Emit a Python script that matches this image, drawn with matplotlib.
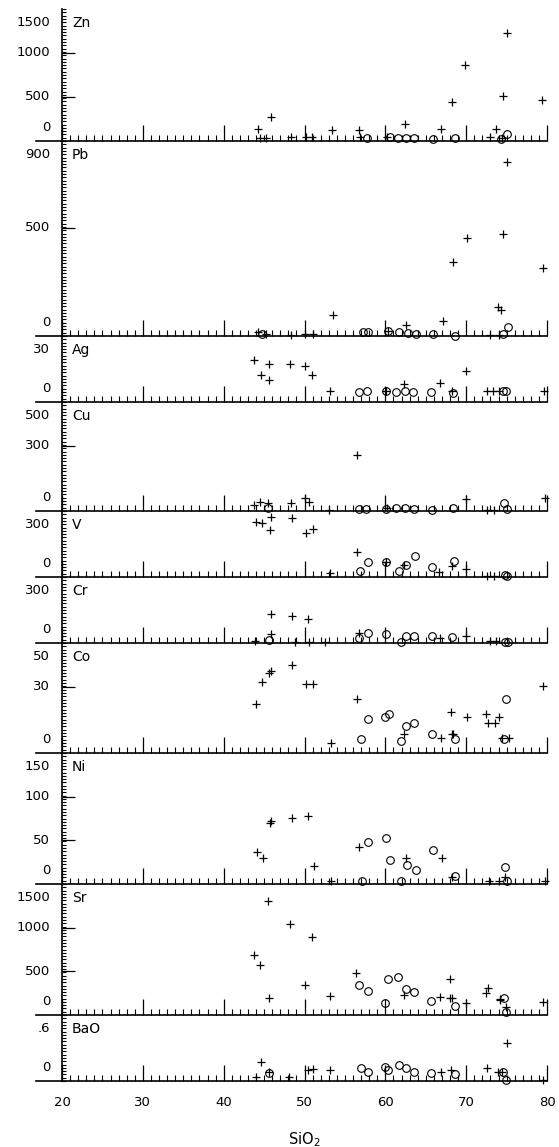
import numpy as np
import matplotlib
matplotlib.use('Agg')
import matplotlib.pyplot as plt
from matplotlib.ticker import MultipleLocator, FixedLocator
from matplotlib.transforms import blended_transform_factory, offset_copy

plt.rcParams['font.family'] = ['DejaVu Sans']

# ---- data (SiO2 wt%, element ppm / BaO wt%) ----
zn_plus_x = [44.2, 44.5, 45.2, 45.8, 48.3, 50.2, 50.9, 53.4, 56.7, 56.9, 60.2, 62.4, 66.9, 68.3, 69.9, 72.9, 73.7, 74.4, 74.5, 75.1, 79.4]
zn_plus_y = [133, 35, 35, 269, 40, 45, 40, 125, 125, 40, 40, 189, 140, 443, 860, 40, 136, 30, 511, 1223, 466]
zn_circ_x = [57.7, 60.6, 61.6, 62.6, 63.6, 65.9, 68.6, 74.3, 75.0]
zn_circ_y = [30, 40, 35, 35, 30, 25, 35, 20, 80]

pb_plus_x = [44.2, 45.2, 48.3, 50.0, 51.1, 53.5, 60.3, 62.6, 67.1, 68.4, 70.1, 73.0, 73.9, 74.1, 74.3, 74.5, 75.1, 79.5]
pb_plus_y = [20, 10, 5, 10, 10, 97, 25, 51, 71, 343, 451, 5, 135, 5, 120, 469, 804, 315]
pb_circ_x = [44.8, 57.2, 57.9, 60.3, 61.7, 62.8, 63.8, 65.9, 68.6, 74.5, 75.2]
pb_circ_y = [10, 20, 20, 25, 20, 15, 10, 10, 0, 10, 43]

ag_plus_x = [43.75, 44.6, 45.6, 45.6, 48.2, 50.0, 50.9, 53.1, 60.1, 62.25, 66.8, 68.2, 70.0, 72.6, 73.3, 74.0, 79.6]
ag_plus_y = [19.1, 12.3, 17.1, 10.0, 17.1, 16.4, 12.3, 5.2, 5.0, 8.2, 8.5, 5.0, 14.2, 5.0, 5.0, 5.0, 5.0]
ag_circ_x = [56.75, 57.7, 60.1, 61.3, 62.4, 63.4, 65.7, 68.4, 74.5, 74.9]
ag_circ_y = [4.5, 4.8, 5.0, 4.6, 4.8, 4.4, 4.5, 4.0, 4.8, 4.8]

cu_plus_x = [43.8, 44.5, 45.5, 48.3, 50.1, 50.6, 53.0, 56.5, 60.2, 70.0, 72.6, 73.5, 79.7]
cu_plus_y = [27, 43, 35, 36, 61, 40, 5, 257, 15, 55, 5, 5, 60]
cu_circ_x = [45.5, 56.75, 57.6, 60.1, 61.3, 62.4, 63.6, 65.8, 68.4, 74.7, 75.1]
cu_circ_y = [15, 10, 10, 10, 15, 15, 10, 5, 15, 35, 8]

v_plus_x = [44.0, 44.75, 45.7, 45.8, 48.4, 50.2, 51.0, 53.1, 56.5, 60.1, 62.3, 66.6, 68.2, 70.0, 72.6, 73.4]
v_plus_y = [251, 244, 214, 274, 267, 201, 217, 20, 115, 70, 55, 25, 50, 35, 5, 5]
v_circ_x = [56.9, 57.8, 60.1, 61.75, 62.6, 63.7, 65.8, 68.5, 74.75, 75.1]
v_circ_y = [29, 70, 70, 29, 55, 95, 44, 73, 8, 4]

cr_plus_x = [43.9, 45.8, 45.8, 48.4, 48.8, 50.4, 50.6, 52.5, 56.7, 66.75, 70.0, 73.0, 73.7]
cr_plus_y = [10, 132, 40, 123, 5, 111, 5, 5, 44, 25, 30, 10, 10]
cr_circ_x = [45.6, 56.8, 57.8, 60.1, 61.9, 62.6, 63.6, 65.8, 68.3, 74.75, 75.2]
cr_circ_y = [15, 21, 47, 39, 5, 34, 34, 30, 27, 5, 4]

co_plus_x = [44.0, 44.7, 45.6, 45.8, 48.4, 50.2, 51.0, 53.3, 56.5, 62.35, 66.9, 68.1, 68.2, 68.4, 70.1, 72.5, 72.7, 73.6, 74.1, 74.4, 75.3, 79.5]
co_plus_y = [22.3, 32.1, 36.5, 37.5, 40.0, 31.2, 31.2, 4.4, 24.4, 8.5, 7.0, 18.8, 8.5, 8.5, 16.5, 17.7, 13.8, 13.8, 16.5, 7.0, 7.0, 30.5]
co_circ_x = [57.0, 57.9, 60.0, 60.4, 61.9, 62.6, 63.6, 65.75, 68.6, 74.7, 74.9]
co_circ_y = [6.2, 15.5, 16.5, 17.6, 5.6, 12.4, 13.5, 8.5, 6.5, 6.5, 24.5]

ni_plus_x = [44.15, 44.85, 45.7, 45.9, 48.5, 50.4, 51.2, 53.3, 56.7, 62.5, 67.0, 68.2, 72.8, 74.1, 74.8, 79.7]
ni_plus_y = [36.6, 30.2, 70, 72, 75.9, 77.9, 20.2, 3, 42.8, 29.4, 29.4, 8, 3, 3, 8, 3]
ni_circ_x = [57.1, 57.9, 60.1, 60.6, 61.9, 62.7, 63.8, 65.9, 68.6, 74.8, 75.0]
ni_circ_y = [4, 47.7, 52.3, 27.5, 4, 21.8, 16.0, 38.9, 9.2, 19.5, 4]

sr_plus_x = [43.8, 44.5, 45.5, 45.55, 48.2, 50.0, 50.9, 53.15, 56.4, 62.25, 66.8, 68.0, 68.0, 68.2, 70.0, 72.4, 72.7, 74.15, 74.2, 74.9, 79.5]
sr_plus_y = [687, 573, 1309, 198, 1038, 340, 897, 218, 477, 229, 202, 412, 200, 195, 135, 248, 305, 172, 185, 95, 153]
sr_circ_x = [56.8, 57.8, 60.0, 60.3, 61.6, 62.6, 63.6, 65.7, 68.6, 74.65, 74.9]
sr_circ_y = [343, 278, 141, 416, 431, 298, 260, 164, 103, 191, 31]

bao_plus_x = [44.0, 44.6, 45.55, 48.1, 50.4, 51.0, 53.2, 66.85, 68.1, 72.6, 73.9, 74.4, 75.1, 79.5]
bao_plus_y = [0.04, 0.17, 0.085, 0.04, 0.10, 0.11, 0.10, 0.08, 0.10, 0.12, 0.08, 0.08, 0.35, 0.01]
bao_circ_x = [45.55, 57.0, 57.9, 60.0, 60.3, 61.75, 62.6, 63.6, 65.7, 68.6, 74.5, 74.9]
bao_circ_y = [0.07, 0.12, 0.08, 0.125, 0.10, 0.15, 0.12, 0.08, 0.07, 0.06, 0.08, 0.01]

names = ['Zn', 'Pb', 'Ag', 'Cu', 'V', 'Cr', 'Co', 'Ni', 'Sr', 'BaO']
top_labels = ['1500', '900', '30', '500', '300', '300', '50', '150', '1500', '.6']
y_max = [1500, 900, 30, 500, 300, 300, 50, 150, 1500, 0.6]
mid_ticks = [[500, 1000], [500], [], [300], [], [], [30], [50, 100], [500, 1000], []]
plus_data = [(zn_plus_x, zn_plus_y), (pb_plus_x, pb_plus_y), (ag_plus_x, ag_plus_y),
             (cu_plus_x, cu_plus_y), (v_plus_x, v_plus_y), (cr_plus_x, cr_plus_y),
             (co_plus_x, co_plus_y), (ni_plus_x, ni_plus_y), (sr_plus_x, sr_plus_y),
             (bao_plus_x, bao_plus_y)]
circ_data = [(zn_circ_x, zn_circ_y), (pb_circ_x, pb_circ_y), (ag_circ_x, ag_circ_y),
             (cu_circ_x, cu_circ_y), (v_circ_x, v_circ_y), (cr_circ_x, cr_circ_y),
             (co_circ_x, co_circ_y), (ni_circ_x, ni_circ_y), (sr_circ_x, sr_circ_y),
             (bao_circ_x, bao_circ_y)]

# panel edges in pixels (top, baseline)
edges = [(9, 141), (141, 336), (336, 402), (402, 511), (511, 577),
         (577, 643), (643, 753), (753, 884), (884, 1015), (1015, 1081)]

W, H = 559, 1147
x0, x1 = 62, 547
fig = plt.figure(figsize=(W / 100, H / 100), dpi=100)

FS = 9.5
for i, name in enumerate(names):
    top, base = edges[i]
    ax = fig.add_axes([x0 / W, 1 - base / H, (x1 - x0) / W, (base - top) / H])
    ax.patch.set_visible(False)
    ax.set_xlim(20, 80)
    ax.set_ylim(0, y_max[i])
    ax.spines['top'].set_visible(False)
    ax.spines['right'].set_visible(False)
    ax.spines['left'].set_linewidth(1.2)
    ax.spines['bottom'].set_linewidth(1.2)

    ax.xaxis.set_major_locator(MultipleLocator(10))
    ax.xaxis.set_minor_locator(MultipleLocator(1))
    ax.tick_params(axis='x', which='major', direction='in', length=11.5, width=0.9,
                   labelbottom=False, pad=11, labelsize=FS)
    ax.tick_params(axis='x', which='minor', direction='in', length=4.2, width=0.8)

    ax.yaxis.set_major_locator(FixedLocator(mid_ticks[i]))
    n = int(round((base - top) / 3.3))
    ax.yaxis.set_minor_locator(MultipleLocator(y_max[i] / n))
    ax.tick_params(axis='y', which='major', direction='in', length=9.4, width=0.9, labelleft=False)
    ax.tick_params(axis='y', which='minor', direction='in', length=2.9, width=0.8)

    # y labels as text so the end values can sit inside the panel
    tr = blended_transform_factory(ax.transAxes, ax.transData)
    ax.text(0, 0, '0', transform=offset_copy(tr, fig=fig, x=-8.6, y=9.4, units='points'),
            ha='right', va='center', fontsize=FS)
    ax.text(0, y_max[i], top_labels[i], transform=offset_copy(tr, fig=fig, x=-8.6, y=-10, units='points'),
            ha='right', va='center', fontsize=FS)
    ax.text(0, y_max[i], name, transform=offset_copy(tr, fig=fig, x=7.2, y=-10, units='points'),
            ha='left', va='center', fontsize=FS + 0.5)
    for v in mid_ticks[i]:
        ax.text(0, v, str(v), transform=offset_copy(tr, fig=fig, x=-8.6, y=0, units='points'),
                ha='right', va='center', fontsize=FS)

    # baseline sticks out to the left of the y axis
    ax.plot([-26 / (x1 - x0), 0], [0, 0], transform=ax.transAxes, color='k', lw=1.2, clip_on=False)

    px, py = plus_data[i]
    cx, cy = circ_data[i]
    ax.plot(px, py, ls='none', marker='+', ms=6, mew=0.9, color='k', clip_on=False)
    ax.plot(cx, cy, ls='none', marker='o', ms=5.5, mfc='none', mec='k', mew=0.8, clip_on=False)

    if i == len(names) - 1:
        ax.tick_params(axis='x', which='major', labelbottom=True)
        ax.set_xlabel('SiO$_2$', fontsize=FS + 1, labelpad=15)

fig.savefig('out.png', dpi=100)
